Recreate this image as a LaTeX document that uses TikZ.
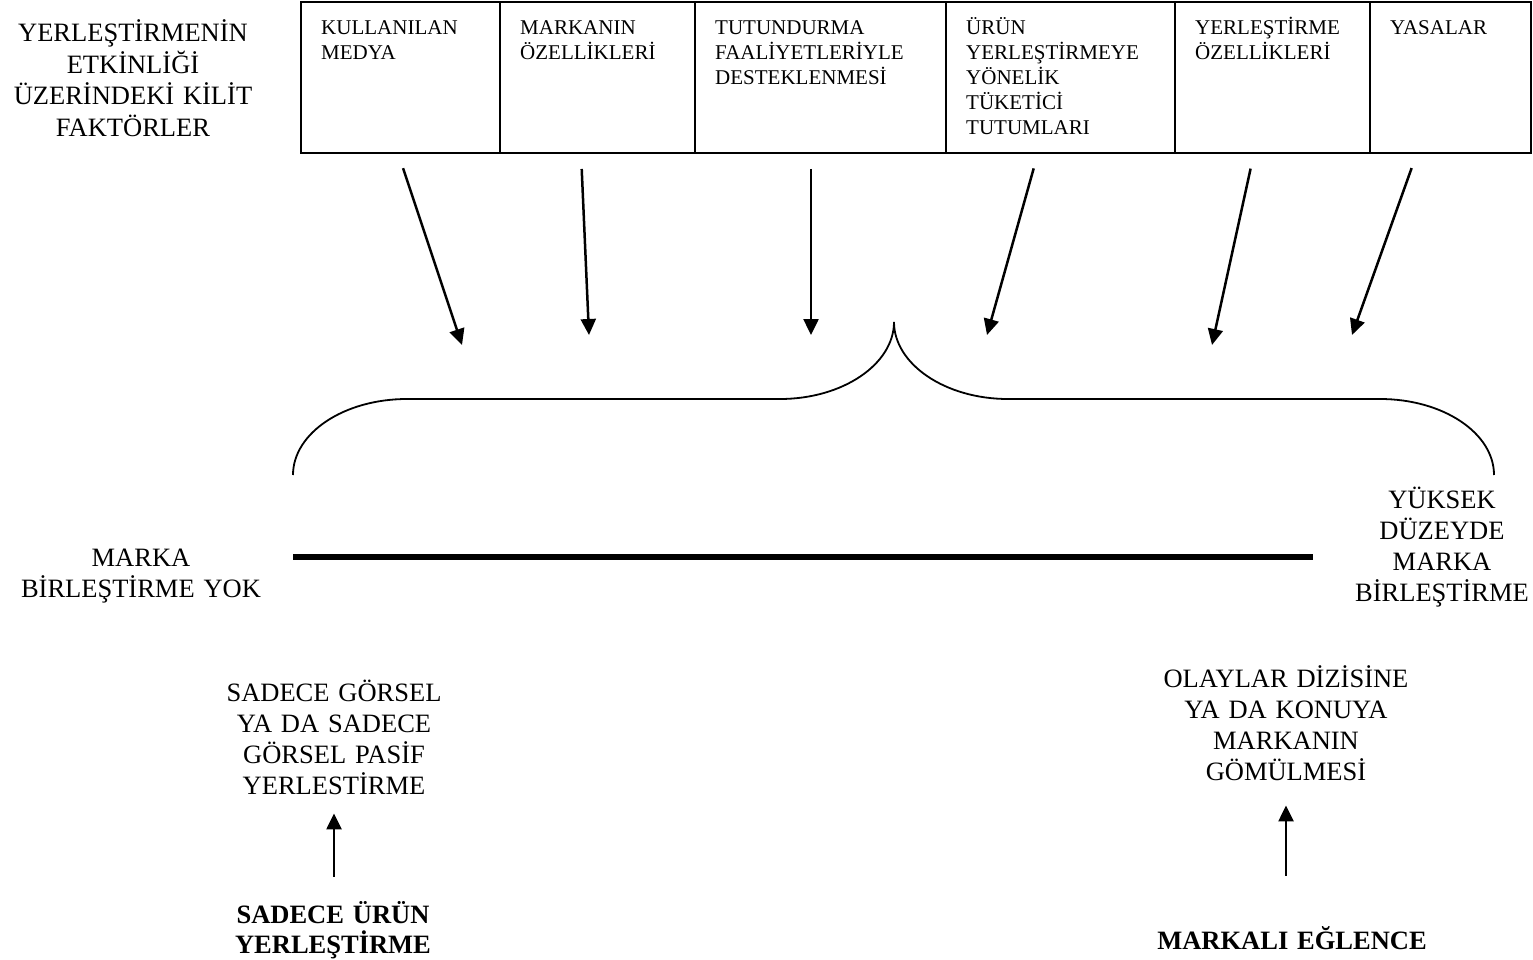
\documentclass[tikz,border=0pt]{standalone}
\usepackage{fontspec}
\setmainfont{Liberation Serif}
\usetikzlibrary{arrows.meta,positioning,calc}

\begin{document}
\begin{tikzpicture}[x=1pt,y=-1pt,>={Triangle[length=16pt,width=15pt]},
	cell/.style={draw,line width=1.8pt,anchor=north west,inner sep=0pt,outer sep=0pt,minimum height=151pt},
	celltext/.style={anchor=base west,align=left,inner sep=0pt,text width=150pt,font=\fontsize{21}{25}\selectfont},
	bigtext/.style={anchor=base,align=center,inner sep=0pt,text width=300pt,font=\fontsize{26.5}{31}\selectfont},
	boldtext/.style={bigtext,font=\fontsize{26.5}{30}\selectfont\bfseries},
	factor/.style={->,line width=2.5pt,shorten <=16pt},
	brace/.style={line width=1.8pt}]

\useasboundingbox (0,0) rectangle (1533,960);

% table of factors
\node[cell,minimum width=199pt] (medya) at (301,2) {};
\node[cell,minimum width=195pt] (marka) at (500,2) {};
\node[cell,minimum width=251pt] (tutundurma) at (695,2) {};
\node[cell,minimum width=229pt] (tutum) at (946,2) {};
\node[cell,minimum width=195pt] (ozellik) at (1175,2) {};
\node[cell,minimum width=161pt] (yasa) at (1370,2) {};

\node[celltext] (medyaT) at ([shift={(20,33)}]medya.north west) {KULLANILAN\\MEDYA};
\node[celltext] (markaT) at ([shift={(20,33)}]marka.north west) {MARKANIN\\ÖZELLİKLERİ};
\node[celltext,text width=220pt] (tutundurmaT) at ([shift={(20,33)}]tutundurma.north west) {TUTUNDURMA\\FAALİYETLERİYLE\\DESTEKLENMESİ};
\node[celltext,text width=205pt] (tutumT) at ([shift={(20,33)}]tutum.north west) {ÜRÜN\\YERLEŞTİRMEYE\\YÖNELİK\\TÜKETİCİ\\TUTUMLARI};
\node[celltext] (ozellikT) at ([shift={(20,33)}]ozellik.north west) {YERLEŞTİRME\\ÖZELLİKLERİ};
\node[celltext] (yasaT) at ([shift={(20,33)}]yasa.north west) {YASALAR};

\node[bigtext,font=\fontsize{26.5}{31.5}\selectfont] (factors) at (133,42) {YERLEŞTİRMENİN\\ETKİNLİĞİ\\ÜZERİNDEKİ KİLİT\\FAKTÖRLER};

% arrow tips above the brace
\coordinate (t1) at (462,345);
\coordinate (t2) at (589,335);
\coordinate (t3) at (811,335);
\coordinate (t4) at (987,335);
\coordinate (t5) at (1212,345);
\coordinate (t6) at (1352,335);

\foreach \c/\dx/\t in {medya/-2.5/t1,marka/-16.5/t2,tutundurma/-9.5/t3,tutum/-22.5/t4,ozellik/-18.5/t5,yasa/-33.5/t6}
	\draw[factor] ([xshift=\dx pt]\c.south) -- (\t);

\draw[brace] (293,475) .. controls (293,433) and (344,399) .. (407,399)
	-- (780,399) .. controls (843,399) and (894,364) .. (894,322)
	.. controls (894,364) and (945,399) .. (1008,399)
	-- (1380,399) .. controls (1443,399) and (1494,433) .. (1494,475);

% the scale
\draw[line width=6.5pt] (293,557) -- (1313,557);

\node[bigtext] (nobrand) at (141,566) {MARKA\\BİRLEŞTİRME YOK};
\node[bigtext] (highbrand) at (1442,508) {YÜKSEK\\DÜZEYDE\\MARKA\\BİRLEŞTİRME};

\node[bigtext] (visual) at (334,701) {SADECE GÖRSEL\\YA DA SADECE\\GÖRSEL PASİF\\YERLESTİRME};
\node[boldtext] (onlyplacement) at (333,923) {SADECE ÜRÜN\\YERLEŞTİRME};
\draw[->,line width=2.5pt,shorten <=24pt,shorten >=19pt] (onlyplacement.north -| visual.south) -- (visual.south);

\node[bigtext] (embed) at (1286,687) {OLAYLAR DİZİSİNE\\YA DA KONUYA\\MARKANIN\\GÖMÜLMESİ};
\node[boldtext] (branded) at (1292,949) {MARKALI EĞLENCE};
\draw[->,line width=2.5pt,shorten <=50pt,shorten >=25pt] (branded.north -| embed.south) -- (embed.south);

\end{tikzpicture}
\end{document}
